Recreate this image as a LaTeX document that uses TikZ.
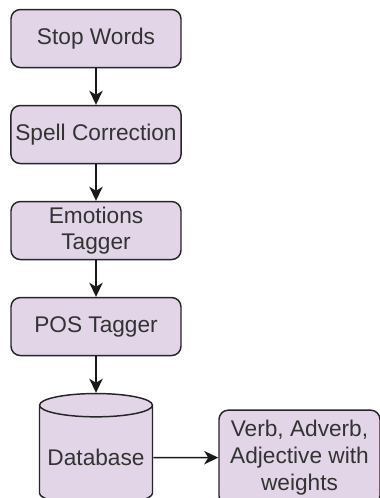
\documentclass[tikz,border=0pt]{standalone}
\usepackage{fontspec}
\setmainfont{Liberation Sans}
\usetikzlibrary{positioning,shapes.geometric,arrows.meta}

\definecolor{stepfill}{HTML}{E1D5E7}
\definecolor{textgray}{HTML}{333333}

\tikzset{
stage/.style={draw=black!85,fill=stepfill,rounded corners=7pt,line width=1.1pt,
  minimum width=127.5pt,minimum height=43.5pt,align=center,text=textgray},
store/.style={draw=black!85,fill=stepfill,cylinder,shape border rotate=90,aspect=0.22,
  minimum width=84.75pt,minimum height=83.5pt,line width=1.1pt,text=textgray,
  cylinder uses custom fill,cylinder body fill=stepfill,cylinder end fill=stepfill},
flow/.style={draw=black!90,line width=1.2pt,
  -{Stealth[length=10.5pt,width=10pt,inset=3pt]}}}

\begin{document}
\begin{tikzpicture}
  [node distance=27.4pt,
   every node/.style={font=\fontsize{17}{20}\selectfont}]
   \useasboundingbox (0,0) rectangle (284.25pt,-373.5pt);
   \node[stage] (stop) at (72pt,-28.9pt) {Stop Words};
   \node[stage,below=of stop] (spell) {Spell Correction};
   \node[stage,below=of spell] (emo) {Emotions\\Tagger};
   \node[stage,below=of emo] (pos) {POS Tagger};
   \node[store,below=of pos] (db) {Database};
   \node[stage,right=48.75pt of db,minimum width=120.75pt,minimum height=71.25pt] (out)
     {Verb, Adverb,\\Adjective with\\weights};
   % arrows down the chain
   \draw[flow] (stop) -- (spell);
   \draw[flow] (spell) -- (emo);
   \draw[flow] (emo) -- (pos);
   \draw[flow] (pos) -- (db);
   \draw[flow] (db) -- (out);
\end{tikzpicture}
\end{document}
